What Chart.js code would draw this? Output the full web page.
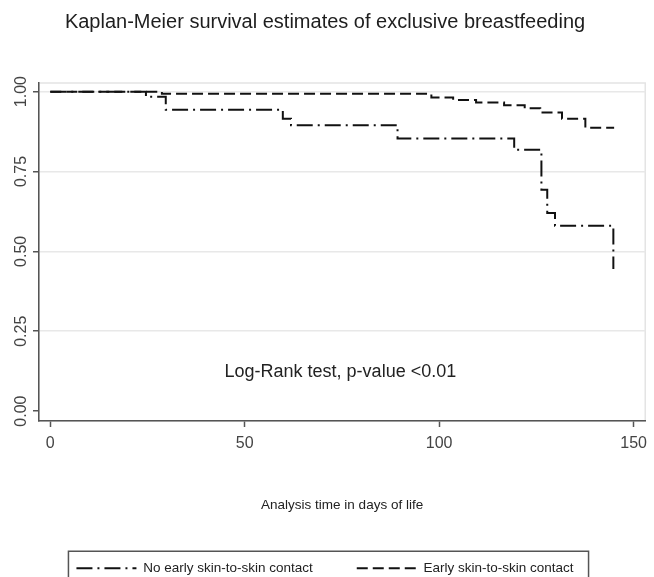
<!DOCTYPE html>
<html>
<head>
<meta charset="utf-8">
<script src="https://cdn.jsdelivr.net/npm/chart.js@4.4.1/dist/chart.umd.min.js"></script>
<style>
  html, body { margin: 0; padding: 0; background: #fff; }
  #wrap { width: 654px; height: 577px; }
</style>
</head>
<body>
<div id="wrap"><canvas id="km"></canvas></div>
<script>
var chartTitle = 'Kaplan-Meier survival estimates of exclusive breastfeeding';
var xTitle = 'Analysis time in days of life';
var groups = ['No early skin-to-skin contact', 'Early skin-to-skin contact'];

// KM steps: day of the drop and survival right after it
var noSkinDays = [0, 24.6, 29.7, 59.8, 61.9, 89.3, 119.3, 126.3, 127.8, 129.8, 144.8];
var noSkinSurv = [1, 0.984, 0.943, 0.915, 0.895, 0.853, 0.818, 0.693, 0.62, 0.58, 0.445];
var skinDays = [0, 28.7, 98, 103.6, 109.5, 116.7, 122, 126, 131.6, 137.6, 145];
var skinSurv = [1, 0.993, 0.982, 0.974, 0.966, 0.957, 0.948, 0.935, 0.915, 0.887, 0.887];

var xTicks = [0, 50, 100, 150];
var yTicks = [0, 0.25, 0.5, 0.75, 1];

var note = 'Log-Rank test, p-value <0.01';
var noteX = 74.6;
var noteY = 0.122;

var sans = '"Liberation Sans", Arial, sans-serif';
var plotBottom = 421;
var legendShift = 8;

function toPoints(xs, ys) {
  var pts = [];
  for (var i = 0; i < xs.length; i++) {
    pts.push({ x: xs[i], y: ys[i] });
  }
  return pts;
}

// light frame round the plot region (axes get drawn over left/bottom)
var plotFrame = {
  id: 'plotFrame',
  beforeDraw: function (chart) {
    var a = chart.chartArea, ctx = chart.ctx;
    ctx.save();
    ctx.strokeStyle = '#e4e4e4';
    ctx.lineWidth = 1.5;
    ctx.strokeRect(a.left, a.top, a.right - a.left, a.bottom - a.top);
    ctx.restore();
  }
};

var noteText = {
  id: 'noteText',
  afterDatasetsDraw: function (chart) {
    var ctx = chart.ctx;
    var x = chart.scales.x.getPixelForValue(noteX);
    var y = chart.scales.y.getPixelForValue(noteY);
    ctx.save();
    ctx.font = '18px ' + sans;
    ctx.fillStyle = '#222';
    ctx.textAlign = 'center';
    ctx.textBaseline = 'middle';
    ctx.fillText(note, x, y);
    ctx.restore();
  }
};

var legendFrame = {
  id: 'legendFrame',
  afterDraw: function (chart) {
    var hb = chart.legend.legendHitBoxes;
    if (!hb || !hb.length) return;
    var last = hb[hb.length - 1];
    var left = hb[0].left - 8;
    var right = last.left + last.width + 15;
    var top = hb[0].top + hb[0].height / 2 - 17;
    var ctx = chart.ctx;
    ctx.save();
    ctx.strokeStyle = '#555';
    ctx.lineWidth = 1.5;
    ctx.strokeRect(left, top, right - left, chart.height - top + 10);
    ctx.restore();
  }
};

Chart.defaults.font.family = sans;

var ctx = document.getElementById('km').getContext('2d');
var chart = new Chart(ctx, {
  type: 'line',
  data: {
    datasets: [{
      label: groups[0],
      data: toPoints(noSkinDays, noSkinSurv),
      borderColor: '#111',
      backgroundColor: 'transparent',
      borderWidth: 2,
      borderDash: [16, 5, 2, 5],
      stepped: true,
      pointRadius: 0,
      fill: false
    }, {
      label: groups[1],
      data: toPoints(skinDays, skinSurv),
      borderColor: '#111',
      backgroundColor: 'transparent',
      borderWidth: 2,
      borderDash: [11, 5],
      stepped: true,
      pointRadius: 0,
      fill: false
    }]
  },
  options: {
    responsive: true,
    maintainAspectRatio: false,
    animation: false,
    layout: { padding: { left: 0, right: 4, top: 0, bottom: -legendShift } },
    plugins: {
      title: {
        display: true,
        text: chartTitle,
        color: '#1e1e1e',
        font: { size: 20, weight: 'normal', family: sans },
        padding: { top: 10, bottom: 49 }
      },
      legend: {
        position: 'bottom',
        labels: {
          usePointStyle: true,
          pointStyle: 'line',
          pointStyleWidth: 60,
          color: '#222',
          font: { size: 13.5 },
          padding: 44,
          // point style drops the dash pattern, take it back from the datasets
          generateLabels: function (chart) {
            var items = Chart.defaults.plugins.legend.labels.generateLabels(chart);
            items.forEach(function (it) {
              var ds = chart.data.datasets[it.datasetIndex];
              it.lineDash = ds.borderDash;
              it.lineWidth = ds.borderWidth;
              it.strokeStyle = ds.borderColor;
            });
            return items;
          }
        }
      },
      tooltip: { enabled: false }
    },
    scales: {
      x: {
        type: 'linear',
        min: -2.9,
        max: 153,
        afterBuildTicks: function (s) {
          s.ticks = xTicks.map(function (v) { return { value: v }; });
        },
        afterFit: function (s) {
          s.height = s.chart.height + legendShift - s.chart.legend.height - plotBottom;
        },
        ticks: { color: '#444', font: { size: 16 }, padding: 7, maxRotation: 0 },
        grid: { drawOnChartArea: false, tickColor: '#555', tickLength: 6, tickWidth: 1.5 },
        border: { color: '#555', width: 1.5 },
        title: {
          display: true,
          text: xTitle,
          color: '#222',
          font: { size: 13.5 },
          padding: { top: 0, bottom: 4.5 }
        }
      },
      y: {
        min: -0.031,
        max: 1.027,
        afterBuildTicks: function (s) {
          s.ticks = yTicks.map(function (v) { return { value: v }; });
        },
        afterFit: function (s) { s.width = 39; },
        ticks: {
          color: '#444',
          font: { size: 16 },
          minRotation: 90,
          maxRotation: 90,
          crossAlign: 'center',
          padding: -4,
          callback: function (v) { return Number(v).toFixed(2); }
        },
        grid: {
          color: function (c) { return c.tick && c.tick.value === 0 ? 'rgba(0,0,0,0)' : '#e8e8e8'; },
          lineWidth: 1.5,
          tickColor: '#555',
          tickLength: 6,
          tickWidth: 1.5
        },
        border: { color: '#555', width: 1.5 }
      }
    }
  },
  plugins: [plotFrame, noteText, legendFrame]
});
</script>
</body>
</html>
